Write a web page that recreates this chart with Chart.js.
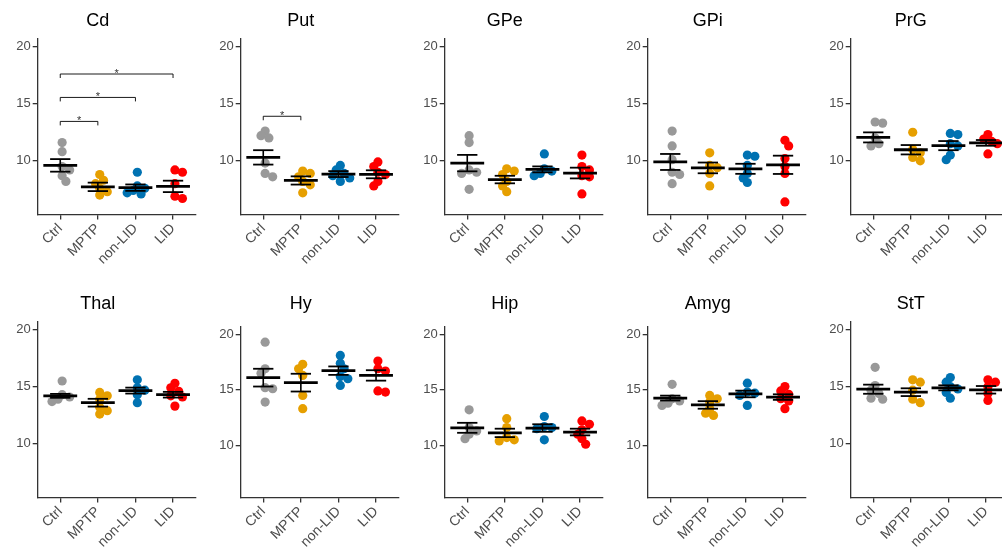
<!DOCTYPE html>
<html lang="en">
<head>
<meta charset="UTF-8">
<title>Regions</title>
<script src="https://cdn.jsdelivr.net/npm/chart.js"></script>
<style>
  body { margin: 0; background: #fff; width: 1002px; height: 559px; overflow: hidden; position: relative; }
  .painel { position: absolute; }
</style>
</head>
<body>
<div id="grade"></div>
<script>
const regions = ['Cd', 'Put', 'GPe', 'GPi', 'PrG', 'Thal', 'Hy', 'Hip', 'Amyg', 'StT'];
const groups = ['Ctrl', 'MPTP', 'non-LID', 'LID'];
const groupColors = ['#999999', '#E69F00', '#0072B2', '#FF0000'];
const yTicks = [10, 15, 20];

// individual values, one row per region (same order as regions)
const ctrlValues = [
  [11.6, 10.8, 9.5, 9.2, 8.7, 8.2],
  [12.6, 12.2, 12.0, 9.8, 8.9, 8.6],
  [12.2, 11.6, 9.2, 9.0, 8.9, 7.5],
  [12.6, 11.3, 10.1, 9.0, 8.8, 8.0],
  [13.4, 13.3, 12.0, 11.5, 11.3],
  [15.5, 14.3, 14.1, 13.9, 13.7],
  [19.3, 16.9, 16.5, 15.2, 15.1, 13.9],
  [13.2, 11.6, 11.3, 11.0, 10.6],
  [15.5, 14.2, 14.0, 13.8, 13.6],
  [16.7, 15.1, 14.7, 14.4, 14.0, 13.9]
];
const mptpValues = [
  [8.8, 8.3, 8.0, 7.6, 7.3, 7.0],
  [9.1, 8.9, 8.6, 8.2, 7.9, 7.2],
  [9.3, 9.1, 8.8, 8.2, 7.8, 7.3],
  [10.7, 9.6, 9.4, 8.9, 7.8],
  [12.5, 11.0, 10.7, 10.3, 10.0],
  [14.5, 14.2, 13.9, 13.2, 12.9, 12.6],
  [17.3, 16.9, 16.3, 14.5, 13.3],
  [12.4, 11.6, 10.7, 10.5, 10.4],
  [14.5, 14.2, 13.9, 13.3, 12.9, 12.7],
  [15.6, 15.4, 14.7, 13.9, 13.6]
];
const nonLidValues = [
  [9.0, 7.8, 7.6, 7.4, 7.2, 7.1],
  [9.6, 9.2, 8.9, 8.7, 8.5, 8.2],
  [10.6, 9.3, 9.1, 8.9, 8.7],
  [10.5, 10.4, 9.6, 8.9, 8.5, 8.1],
  [12.4, 12.3, 11.5, 11.3, 10.5, 10.1],
  [15.6, 14.9, 14.7, 14.3, 13.6],
  [18.1, 17.4, 16.9, 16.2, 16.0, 15.4],
  [12.6, 11.7, 11.6, 11.5, 10.5],
  [15.6, 14.8, 14.7, 14.5, 13.6],
  [15.8, 15.4, 15.0, 14.8, 14.5, 14.0]
];
const lidValues = [
  [9.2, 9.0, 8.0, 6.9, 6.7],
  [9.9, 9.5, 9.0, 8.8, 8.2, 7.8],
  [10.5, 9.5, 9.2, 8.7, 8.6, 7.1],
  [11.8, 11.3, 10.2, 9.5, 8.9, 6.4],
  [12.3, 11.9, 11.7, 11.5, 10.6],
  [15.3, 14.9, 14.6, 14.2, 14.1, 13.3],
  [17.6, 16.9, 16.7, 14.9, 14.8],
  [12.2, 11.9, 11.4, 11.0, 10.6, 10.1],
  [15.3, 14.9, 14.6, 14.2, 14.0, 13.3],
  [15.6, 15.4, 15.0, 14.4, 13.8]
];

// mean and SEM per group, one entry per region
const ctrlMean   = [9.6, 10.3, 9.8, 9.9, 12.05, 14.2, 16.1, 11.58, 14.26, 14.78];
const ctrlSem    = [0.55, 0.63, 0.72, 0.7, 0.44, 0.17, 0.8, 0.45, 0.22, 0.4];
const mptpMean   = [7.72, 8.28, 8.36, 9.38, 10.97, 13.6, 15.65, 11.12, 13.64, 14.52];
const mptpSem    = [0.37, 0.36, 0.33, 0.47, 0.41, 0.34, 0.8, 0.38, 0.34, 0.34];
const nonLidMean = [7.65, 8.84, 9.25, 9.3, 11.33, 14.66, 16.73, 11.56, 14.63, 14.9];
const nonLidSem  = [0.28, 0.26, 0.26, 0.44, 0.4, 0.26, 0.38, 0.34, 0.3, 0.22];
const lidMean    = [7.76, 8.82, 8.93, 9.65, 11.57, 14.3, 16.3, 11.2, 14.35, 14.73];
const lidSem     = [0.5, 0.35, 0.47, 0.8, 0.25, 0.25, 0.47, 0.3, 0.25, 0.33];

// significance brackets (groups numbered 1..4)
const brackets = [
  { region: 'Cd', from: 1, to: 2, y: 13.45, label: '*' },
  { region: 'Cd', from: 1, to: 3, y: 15.55, label: '*' },
  { region: 'Cd', from: 1, to: 4, y: 17.6, label: '*' },
  { region: 'Put', from: 1, to: 2, y: 13.9, label: '*' }
];

const allValues = [ctrlValues, mptpValues, nonLidValues, lidValues];
const allMeans = [ctrlMean, mptpMean, nonLidMean, lidMean];
const allSems = [ctrlSem, mptpSem, nonLidSem, lidSem];

const fonte = "'Liberation Sans', Arial, sans-serif";
const corEixo = '#333333';
const corTexto = '#4d4d4d';

// small horizontal spread so dots that sit on top of each other separate a bit
function espalhar(vals) {
  const pxX = 37.6, pxY = 11.4;
  const passos = [0.05, 0.15, -0.06, 0.25, -0.15, 0.3, -0.22];
  const postos = [];
  return vals.map(v => {
    let melhor = 0, melhorGap = -1;
    for (const dx of passos) {
      let gap = Infinity;
      postos.forEach(p => {
        gap = Math.min(gap, Math.hypot((p.dx - dx) * pxX, (p.v - v) * pxY));
      });
      if (gap >= 6) { melhor = dx; break; }
      if (gap > melhorGap) { melhorGap = gap; melhor = dx; }
    }
    postos.push({ v: v, dx: melhor });
    return melhor;
  });
}

// mean line + SEM error bar, drawn on top of the dots
const mediaSemPlugin = {
  id: 'mediaSem',
  afterDatasetsDraw(chart, args, opts) {
    const ctx = chart.ctx;
    const x = chart.scales.x, y = chart.scales.y;
    const r = opts.regiao;
    ctx.save();
    ctx.strokeStyle = '#000';
    function linha(x1, y1, x2, y2, w) {
      ctx.lineWidth = w;
      ctx.beginPath();
      ctx.moveTo(x.getPixelForValue(x1), y.getPixelForValue(y1));
      ctx.lineTo(x.getPixelForValue(x2), y.getPixelForValue(y2));
      ctx.stroke();
    }
    for (let g = 0; g < groups.length; g++) {
      const m = allMeans[g][r], s = allSems[g][r], c = g + 1;
      linha(c, m - s, c, m + s, 1.6);
      linha(c - 0.27, m + s, c + 0.27, m + s, 1.8);
      linha(c - 0.27, m - s, c + 0.27, m - s, 1.8);
      linha(c - 0.45, m, c + 0.45, m, 2.8);
    }
    // brackets
    brackets.filter(b => b.region === regions[r]).forEach(b => {
      ctx.strokeStyle = '#000';
      ctx.lineWidth = 0.9;
      const x1 = x.getPixelForValue(b.from), x2 = x.getPixelForValue(b.to);
      const yy = y.getPixelForValue(b.y), yb = y.getPixelForValue(b.y - 0.35);
      ctx.beginPath();
      ctx.moveTo(x1, yb); ctx.lineTo(x1, yy); ctx.lineTo(x2, yy); ctx.lineTo(x2, yb);
      ctx.stroke();
      ctx.fillStyle = '#333';
      ctx.font = '11px ' + fonte;
      ctx.textAlign = 'center';
      ctx.textBaseline = 'alphabetic';
      ctx.fillText(b.label, (x1 + x2) / 2, yy + 3);
    });
    ctx.restore();
  }
};

const grade = document.getElementById('grade');

regions.forEach((nome, r) => {
  const col = r % 5, lin = Math.floor(r / 5);
  const div = document.createElement('div');
  div.className = 'painel';
  div.style.left = (col * 203.3) + 'px';
  div.style.top = (lin * 283) + 'px';
  const canvas = document.createElement('canvas');
  canvas.width = 204;
  canvas.height = 283;
  div.appendChild(canvas);
  grade.appendChild(div);

  const datasets = groups.map((g, i) => {
    const vals = allValues[i][r];
    const offs = espalhar(vals);
    return {
      label: g,
      data: vals.map((v, k) => ({ x: i + 1 + offs[k], y: v })),
      backgroundColor: groupColors[i],
      borderWidth: 0,
      pointRadius: 4.6
    };
  });

  // titles with descenders push the plot area down a little, as in the original
  const extra = /[gjpqy]/.test(nome) ? 5 : 0;

  new Chart(canvas, {
    type: 'scatter',
    data: { datasets: datasets },
    plugins: [mediaSemPlugin],
    options: {
      responsive: false,
      animation: false,
      devicePixelRatio: 1,
      layout: { padding: { left: 0, right: 8.4, top: 0, bottom: 0 } },
      plugins: {
        legend: { display: false },
        tooltip: { enabled: false },
        title: {
          display: true,
          text: nome,
          color: '#000',
          font: { family: fonte, size: 18, weight: 'normal' },
          padding: { top: 10, bottom: 7 + extra }
        },
        mediaSem: { regiao: r }
      },
      scales: {
        x: {
          type: 'linear',
          min: 0.4,
          max: 4.6,
          afterBuildTicks: s => { s.ticks = groups.map((g, i) => ({ value: i + 1 })); },
          afterFit: s => { s.height = 68.5; },
          ticks: {
            callback: v => groups[v - 1],
            autoSkip: false,
            minRotation: 45,
            maxRotation: 45,
            color: corTexto,
            font: { family: fonte, size: 14 },
            padding: 1
          },
          grid: { display: true, drawOnChartArea: false, drawTicks: true, tickLength: 5, color: corEixo, lineWidth: 1.3 },
          border: { display: true, color: corEixo, width: 1.3 }
        },
        y: {
          min: 5.3,
          max: 20.7,
          afterBuildTicks: s => { s.ticks = yTicks.map(v => ({ value: v })); },
          afterFit: s => { s.width = 37.7; },
          ticks: {
            color: corTexto,
            font: { family: fonte, size: 13 },
            padding: 2
          },
          grid: { display: true, drawOnChartArea: false, drawTicks: true, tickLength: 5, color: corEixo, lineWidth: 1.3 },
          border: { display: true, color: corEixo, width: 1.3 }
        }
      }
    }
  });
});
</script>
</body>
</html>
